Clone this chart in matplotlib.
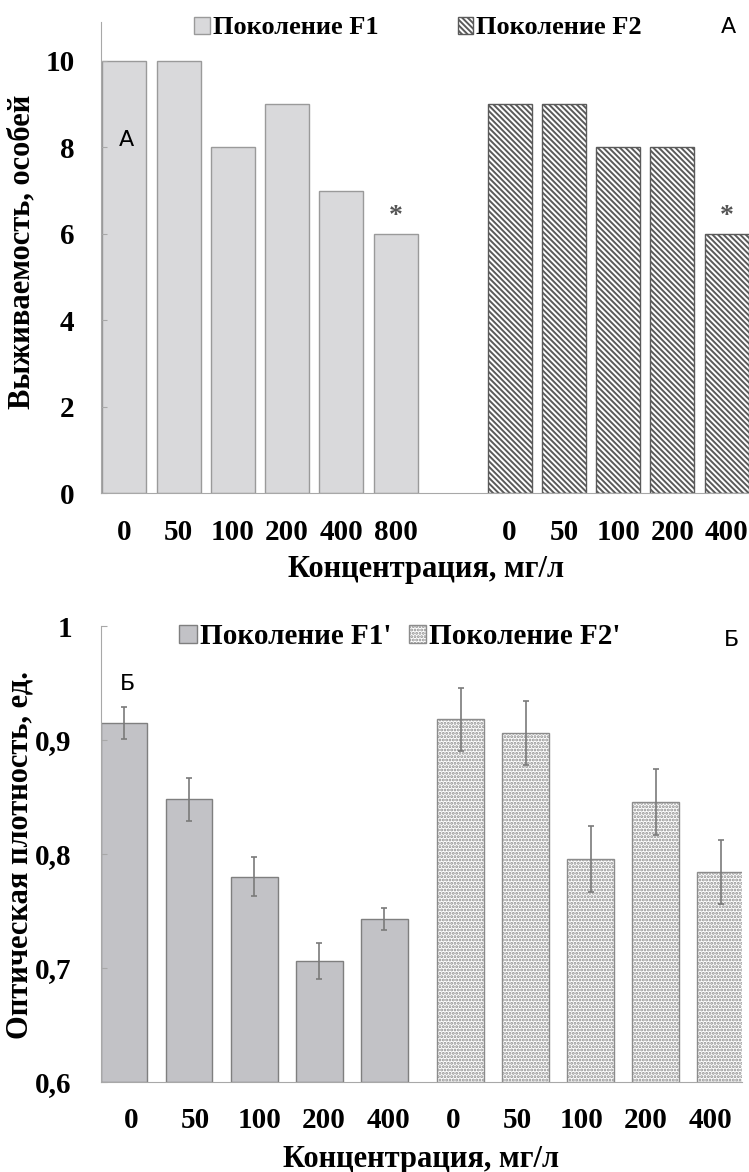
import numpy as np
import matplotlib
matplotlib.use("Agg")
import matplotlib.pyplot as plt
from matplotlib import font_manager

# данные
conc_f1 = ["0", "50", "100", "200", "400", "800"]
conc_f2 = ["0", "50", "100", "200", "400"]
surv_f1 = [10, 10, 8, 9, 7, 6]
surv_f2 = [9, 9, 8, 8, 6]
star_f1 = [5]
star_f2 = [4]

conc_b = ["0", "50", "100", "200", "400"]
od_f1 = [0.915, 0.848, 0.780, 0.706, 0.743]
err_f1 = [0.014, 0.019, 0.017, 0.016, 0.010]
od_f2 = [0.918, 0.906, 0.796, 0.846, 0.784]
err_f2 = [0.028, 0.028, 0.029, 0.029, 0.028]

installed = {f.name for f in font_manager.fontManager.ttflist}
SERIF = "Liberation Serif"
SANS = "Liberation Sans Narrow" if "Liberation Sans Narrow" in installed else "DejaVu Sans"
plt.rcParams["font.family"] = SERIF
plt.rcParams["font.weight"] = "bold"
plt.rcParams["hatch.linewidth"] = 1.4

W, H = 749, 1172
fig = plt.figure(figsize=(W / 100, H / 100), dpi=100)

def fx(px):
    return px / W

def fy(py):
    return 1 - py / H

axis_col = "#a8a8a8"

def style_axes(ax, ypad, xpad):
    for s in ["top", "right"]:
        ax.spines[s].set_visible(False)
    ax.spines["left"].set_color(axis_col)
    ax.spines["bottom"].set_color(axis_col)
    ax.tick_params(axis="y", direction="in", length=4, color=axis_col,
                   labelsize=21, pad=ypad)
    ax.tick_params(axis="x", length=0, labelsize=21, pad=xpad)

# ---- панель А ----
ax1 = fig.add_axes([fx(101), fy(493), fx(648), (493 - 22) / H])
x1 = np.arange(len(surv_f1))
x2 = 7.1 + np.arange(len(surv_f2))
b1 = ax1.bar(x1, surv_f1, 0.81, color="#d9d9db", edgecolor="#9a9a9a", lw=1)
b2 = ax1.bar(x2, surv_f2, 0.81, color="white", edgecolor="#5a5a5a", lw=1,
             hatch="\\\\\\\\\\\\")
for i in star_f1:
    ax1.text(x1[i], surv_f1[i] + 0.25, "*", ha="center", va="baseline",
             fontsize=20, color="#555555")
for i in star_f2:
    ax1.text(x2[i], surv_f2[i] + 0.25, "*", ha="center", va="baseline",
             fontsize=20, color="#555555")
ax1.set_xlim(-0.43, 11.51)
ax1.set_ylim(0, 10.9)
ax1.set_yticks([0, 2, 4, 6, 8, 10])
ax1.set_xticks(np.concatenate([x1, x2]))
ax1.set_xticklabels(conc_f1 + conc_f2)
style_axes(ax1, 19, 19)
fig.text(fx(426), fy(570), "Концентрация, мг/л", ha="center", va="center",
         fontsize=22)
fig.text(fx(22), fy(252), "Выживаемость, особей", rotation=90,
         ha="center", va="center", fontsize=22)
fig.legend([b1, b2], ["Поколение F1", "Поколение F2"], loc="center",
           bbox_to_anchor=(fx(418), fy(28)), ncol=2, frameon=False,
           handlelength=0.6, handleheight=0.6, handletextpad=0.1,
           columnspacing=3.0, prop={"family": SERIF, "weight": "bold", "size": 19})
fig.text(fx(728), fy(27), "А", ha="center", va="center", fontsize=16,
         family=SANS, weight="normal")
fig.text(fx(126), fy(140), "А", ha="center", va="center", fontsize=16,
         family=SANS, weight="normal")

# ---- панель Б ----
ax2 = fig.add_axes([fx(101), fy(1082), fx(641), (1082 - 626) / H])
xb1 = np.arange(len(od_f1))
xb2 = 5.17 + np.arange(len(od_f2))
ekw = dict(ecolor="#7a7a7a", elinewidth=1.2, capsize=2.5, capthick=1.2)
c1 = ax2.bar(xb1, np.array(od_f1) - 0.6, 0.71, bottom=0.6, color="#c2c2c6",
             edgecolor="#7f7f7f", lw=1, yerr=err_f1, error_kw=ekw)
c2 = ax2.bar(xb2, np.array(od_f2) - 0.6, 0.71, bottom=0.6, color="white",
             edgecolor="#8c8c8c", lw=1, hatch=".....", yerr=err_f2, error_kw=ekw)
ax2.set_xlim(-0.36, 9.5)
ax2.set_ylim(0.6, 1.0)
ax2.set_yticks([0.6, 0.7, 0.8, 0.9, 1.0])
ax2.set_yticklabels(["0,6", "0,7", "0,8", "0,9", "1"])
ax2.set_xticks(np.arange(10) * 0.99 + 0.1)
ax2.set_xticklabels(conc_b + conc_b)
style_axes(ax2, 21, 18)
fig.text(fx(421), fy(1159), "Концентрация, мг/л", ha="center", va="center",
         fontsize=22)
fig.text(fx(20), fy(855), "Оптическая плотность, ед.", rotation=90,
         ha="center", va="center", fontsize=22)
fig.legend([c1, c2], ["Поколение F1'", "Поколение F2'"], loc="center",
           bbox_to_anchor=(fx(400), fy(637)), ncol=2, frameon=False,
           handlelength=0.6, handleheight=0.6, handletextpad=0.1,
           columnspacing=0.6, prop={"family": SERIF, "weight": "bold", "size": 21})
fig.text(fx(731), fy(640), "Б", ha="center", va="center", fontsize=16,
         family=SANS, weight="normal")
fig.text(fx(127), fy(684), "Б", ha="center", va="center", fontsize=16,
         family=SANS, weight="normal")

fig.savefig("out.png", dpi=100)
